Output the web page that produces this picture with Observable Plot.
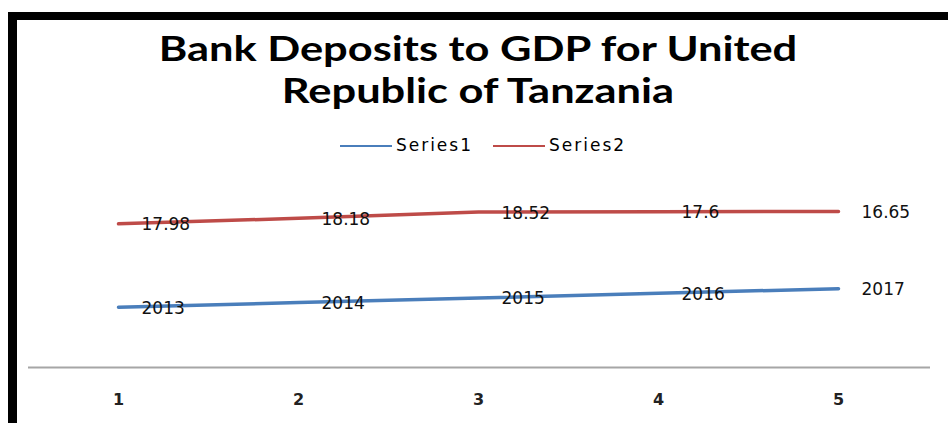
<!DOCTYPE html>
<html>
<head>
<meta charset="utf-8">
<script src="https://cdn.jsdelivr.net/npm/d3@7"></script>
<script src="https://cdn.jsdelivr.net/npm/@observablehq/plot@0.6"></script>
<style>
  html, body { margin: 0; padding: 0; background: #fff; }
  body { width: 948px; height: 423px; overflow: hidden; position: relative; }
  #frame { position: absolute; left: 8px; top: 12px; width: 960px; height: 440px;
           border-top: 8px solid #000; border-left: 9px solid #000; }
  .title { position: absolute; left: 0; width: 956px; text-align: center;
           font-family: Lato, sans-serif; font-weight: 700; font-size: 35px;
           line-height: 42px; height: 42px; color: #000; white-space: nowrap;
           transform: scaleX(1.24); transform-origin: 478px 50%; }
  #t1 { top: 26px; }
  #t2 { top: 68px; }
  #legend { position: absolute; top: 135px; left: 0; width: 966px; text-align: center;
            font-family: "DejaVu Sans", sans-serif; font-size: 17px; letter-spacing: 2px; color: #000; }
  #legend span.item { display: inline-block; margin: 0 10px; }
  #legend span.sw { display: inline-block; width: 52px; height: 0; border-top: 2.5px solid; vertical-align: middle; margin-right: 4px; }
  #chart { position: absolute; left: 0; top: 160px; }
</style>
</head>
<body>
<div id="frame"></div>
<div class="title" id="t1">Bank Deposits to GDP for United</div>
<div class="title" id="t2">Republic of Tanzania</div>
<div id="legend"></div>
<div id="chart"></div>
<script>
const categories = [1, 2, 3, 4, 5];
const seriesNames = ["Series1", "Series2"];
const series1 = [2013, 2014, 2015, 2016, 2017];
const series2 = [17.98, 18.18, 18.52, 17.6, 16.65];
const colors = ["#4a7ebb", "#be4b48"];

const data = [];
categories.forEach((c, i) => data.push({x: c, series: "Series1", value: series1[i]}));
categories.forEach((c, i) => data.push({x: c, series: "Series2", value: series2[i]}));

const legend = document.getElementById("legend");
seriesNames.forEach((s, i) => {
  const item = document.createElement("span");
  item.className = "item";
  item.innerHTML = `<span class="sw" style="border-color:${colors[i]}"></span>${s}`;
  legend.appendChild(item);
});

const chart = Plot.plot({
  width: 948,
  height: 263,
  marginLeft: 28,
  marginRight: 18,
  marginTop: 21.5,
  marginBottom: 56,
  style: {fontFamily: "DejaVu Sans, sans-serif", background: "transparent"},
  x: {type: "point", domain: categories, range: [28, 928], label: null},
  y: {domain: [2000, 2040], axis: null},
  color: {domain: seriesNames, range: colors},
  marks: [
    Plot.ruleY([2000], {stroke: "#a6a6a6", strokeWidth: 2}),
    Plot.axisX({tickSize: 0, tickPadding: 26, fontSize: 16, fontWeight: "bold", label: null, stroke: "none", fill: "#222"}),
    Plot.lineY(data, Plot.stackY2({x: "x", y: "value", z: "series", stroke: "series", strokeWidth: 3.5})),
    Plot.text(data, Plot.stackY2({x: "x", y: "value", z: "series", text: d => String(d.value),
      textAnchor: "start", dx: 23, dy: 1, fontSize: 17, fill: "#111", style: "letter-spacing:2px"}))
  ]
});
document.getElementById("chart").appendChild(chart);
</script>
</body>
</html>
